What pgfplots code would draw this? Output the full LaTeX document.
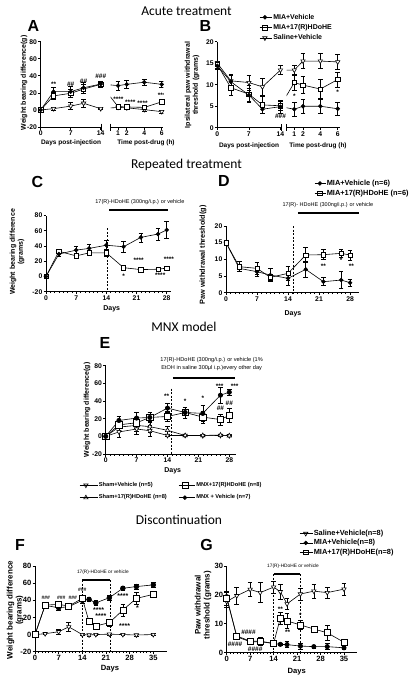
\documentclass[border=0pt]{standalone}
\usepackage{fontspec}
\setmainfont{Liberation Sans}
\newfontfamily\titlefont{Carlito}
\usepackage{pgfplots}
\pgfplotsset{compat=1.18}

\tikzset{
  fc/.style={black, line width=0.6pt, mark=*, mark size=1.9pt, mark options={solid, fill=black}},
  sq/.style={black, line width=0.6pt, mark=square*, mark size=2.2pt, mark options={solid, fill=white}},
  td/.style={black, line width=0.6pt, mark=triangle*, mark size=2.5pt, mark options={solid, fill=white, rotate=180}},
  tu/.style={black, line width=0.6pt, mark=triangle*, mark size=2.5pt, mark options={solid, fill=white}},
  st/.style={font=\fontsize{6.5}{7}\selectfont\bfseries, inner sep=0pt},
  ann/.style={font=\fontsize{5.5}{6.3}\selectfont, inner sep=0pt, align=center},
  albl/.style={font=\fontsize{6.5}{7.5}\selectfont\bfseries, inner sep=0pt, align=center},
  ylbl/.style={font=\fontsize{7}{8}\selectfont\bfseries, inner sep=0pt, align=center, rotate=90},
  plet/.style={font=\fontsize{16}{16}\selectfont\bfseries, inner sep=0pt},
  ttl/.style={font=\titlefont\fontsize{13.5}{14}\selectfont, inner sep=0pt},
  dsh/.style={dashed, line width=0.5pt, dash pattern=on 2pt off 1.5pt},
  bar/.style={line width=2.2pt},
}
\pgfplotsset{
  eb/.style={error bars/y dir=both, error bars/y explicit,
    error bars/error bar style={line width=0.6pt, black, solid},
    error bars/error mark options={rotate=90, mark size=2.3pt, line width=0.6pt, black}},
  gp/.style={scale only axis, anchor=south west, clip=false,
    axis x line*=bottom, axis y line*=left,
    axis line style={line width=0.8pt, -},
    tick align=outside,
    major tick style={line width=0.7pt, black}, minor tick style={line width=0.5pt, black},
    major tick length=2.5pt, minor tick length=1.5pt,
    /pgf/number format/assume math mode=true,
    tick label style={font=\fontsize{6.8}{7}\selectfont\bfseries},
    xticklabel style={inner sep=1pt}, yticklabel style={inner sep=1pt},
  },
  legax/.style={hide axis, scale only axis, width=10pt, height=10pt, anchor=north west,
    xmin=0, xmax=1, ymin=0, ymax=1,
    legend style={at={(0,1)}, anchor=north west, draw=none, fill=none, inner sep=0pt,
      nodes={inner sep=0.6pt}},
    legend cell align=left},
  limg/.style 2 args={legend image code/.code={\draw[mark repeat=2, mark phase=2, ##1] plot coordinates {(0pt,0pt) (#1/2,0pt) (#1,0pt)}; \path (0pt,0pt) -- (#2,0pt);}},
}

\begin{document}
\begin{tikzpicture}
\useasboundingbox (0,0) rectangle (413pt,-675pt);

% ---------- titles and panel letters ----------
\node[ttl] at (186.5pt,-11.5pt) {Acute treatment};
\node[ttl] at (186.5pt,-165pt) {Repeated treatment};
\node[ttl] at (184pt,-326.7pt) {MNX model};
\node[ttl] at (179pt,-520pt) {Discontinuation};
\node[plet] at (33.5pt,-25.5pt) {A};
\node[plet] at (205.5pt,-25.5pt) {B};
\node[plet] at (37.5pt,-181.7pt) {C};
\node[plet] at (224pt,-180.5pt) {D};
\node[plet] at (105pt,-342.5pt) {E};
\node[plet] at (20pt,-545pt) {F};
\node[plet] at (206.5pt,-545pt) {G};

% ================= Panel A =================
\begin{axis}[gp, at={(40.7pt,-127pt)}, width=61.1pt, height=85.3pt,
  xmin=0, xmax=14.25, ymin=-20, ymax=80, xtick={0,7,14}, ytick={-20,0,20,40,60,80}]
\addplot[td, eb] coordinates {(0,0)+-(0,1) (3,1.5)+-(0,1.5) (7,4.5)+-(0,4) (10,7.8)+-(0,5) (14,1.5)+-(0,1)};
\addplot[sq, eb] coordinates {(0,0)+-(0,1) (3,16.5)+-(0,4) (7,19.5)+-(0,5) (10,24.5)+-(0,5) (14,30)+-(0,3)};
\addplot[fc, eb] coordinates {(0,0)+-(0,1) (3,21.4)+-(0,5) (7,21.4)+-(0,6) (10,26)+-(0,6) (14,30.4)+-(0,3)};
\node[st] at (axis cs:3,30) {**};
\node[st] at (axis cs:7,30) {\#\#};
\node[st] at (axis cs:10,34) {\#\#};
\node[st] at (axis cs:14,40) {\#\#\#};
\end{axis}
\begin{axis}[gp, at={(110.6pt,-127pt)}, width=52.9pt, height=85.3pt, clip=true,
  axis y line=none, xmin=0.15, xmax=6.2, ymin=-20, ymax=80, xtick={1,2,4,6}]
\addplot[td, eb] coordinates {(-0.98,1.5)+-(0,0) (1,3)+-(0,2) (2,2.5)+-(0,2) (4,0.4)+-(0,1.5) (6,-2)+-(0,1.5)};
\addplot[sq, eb] coordinates {(-0.98,30)+-(0,0) (1,3.9)+-(0,2) (2,3.5)+-(0,2) (4,3)+-(0,2) (6,9.5)+-(0,3)};
\addplot[fc, eb] coordinates {(-0.98,30.4)+-(0,0) (1,28.5)+-(0,5) (2,30)+-(0,5) (4,32.5)+-(0,4) (6,30)+-(0,4)};
\node[st] at (axis cs:1.05,13) {****};
\node[st] at (axis cs:2.4,9) {****};
\node[st] at (axis cs:3.8,8) {****};
\node[st] at (axis cs:6,17) {***};
\end{axis}
\draw[line width=0.8pt] (101.8pt,-123.5pt) -- (101.8pt,-130.5pt);
\draw[line width=0.8pt] (110.6pt,-123.5pt) -- (110.6pt,-130.5pt);
\node[albl] at (71pt,-142.5pt) {Days post-injection};
\node[albl] at (146pt,-142.5pt) {Time post-drug (h)};
\node[ylbl] at (24pt,-83pt) {Weight bearing difference(g)};

% ================= Panel B =================
\begin{axis}[gp, at={(217.3pt,-127.7pt)}, width=64.3pt, height=86pt,
  xmin=0, xmax=14.25, ymin=0, ymax=20, xtick={0,7,14}, ytick={0,5,10,15,20}]
\addplot[td, eb] coordinates {(0,15)+-(0,0.5) (3,10.9)+-(0,1.5) (7,10.5)+-(0,1.7) (10,9.5)+-(0,2) (14,13.4)+-(0,1)};
\addplot[sq, eb] coordinates {(0,14.7)+-(0,0.8) (3,9.3)+-(0,1.8) (7,7.8)+-(0,2) (10,5.3)+-(0,2) (14,5.1)+-(0,1)};
\addplot[fc, eb] coordinates {(0,14.4)+-(0,0.8) (3,10.7)+-(0,1.5) (7,7.6)+-(0,1.5) (10,4.3)+-(0,1) (14,4.9)+-(0,1.5)};
\node[st] at (axis cs:14,2.7) {\#\#\#};
\end{axis}
\begin{axis}[gp, at={(286.5pt,-127.7pt)}, width=53.4pt, height=86pt, clip=true,
  axis y line=none, xmin=0.1, xmax=6.25, ymin=0, ymax=20, xtick={1,2,4,6}]
\addplot[td, eb] coordinates {(-0.59,13.4)+-(0,0) (1,13.4)+-(0,1) (2,15.5)+-(0,1.7) (4,15.5)+-(0,1.7) (6,15.3)+-(0,1.8)};
\addplot[sq, eb] coordinates {(-0.59,5.1)+-(0,0) (1,10.5)+-(0,1.8) (2,9.9)+-(0,2) (4,9)+-(0,2.2) (6,11.2)+-(0,1.7)};
\addplot[fc, eb] coordinates {(-0.59,4.9)+-(0,0) (1,4.3)+-(0,1.7) (2,5)+-(0,1.7) (4,5)+-(0,1.7) (6,4.4)+-(0,1.5)};
\node[st] at (axis cs:1,7.2) {*};
\node[st] at (axis cs:6,8.2) {*};
\end{axis}
\draw[line width=0.8pt] (281.6pt,-124.2pt) -- (281.6pt,-131.2pt);
\draw[line width=0.8pt] (286.5pt,-124.2pt) -- (286.5pt,-131.2pt);
\node[albl] at (249pt,-145.5pt) {Days post-injection};
\node[albl] at (318pt,-145.5pt) {Time post-drug (h)};
\node[ylbl] at (192pt,-85pt) {Ipsilateral paw withdrawal\\threshold (grams)};
% legend B
\begin{axis}[legax, at={(259.4pt,-13.2pt)}, limg={10pt}{12.5pt},
  legend style={row sep=2.6pt, font=\fontsize{7}{8}\selectfont\bfseries}]
\addlegendimage{fc}\addlegendentry{MIA+Vehicle}
\addlegendimage{sq}\addlegendentry{MIA+17(R)HDoHE}
\addlegendimage{td}\addlegendentry{Saline+Vehicle}
\end{axis}

% ================= Panel C =================
\begin{axis}[gp, at={(46pt,-291.7pt)}, width=125pt, height=76.2pt,
  xmin=0, xmax=29, ymin=-20, ymax=80, xtick={0,7,14,21,28}, minor x tick num=6,
  ytick={-20,0,20,40,60,80}]
\draw[dsh] (axis cs:14.2,63) -- (axis cs:14.2,-20);
\draw[bar] (axis cs:14.7,87.2) -- (axis cs:28.4,87.2);
\node[ann] at (axis cs:21.8,97.3) {17(R)-HDoHE (300ng/i.p.) or vehicle};
\addplot[sq, eb] coordinates {(0,0)+-(0,1) (3,33)+-(0,2) (7,27)+-(0,3) (10,31)+-(0,3) (14,31)+-(0,4) (18,11.5)+-(0,3) (22,9)+-(0,1) (26,9.5)+-(0,1) (28,11)+-(0,2)};
\addplot[fc, eb] coordinates {(0,0)+-(0,1) (3,29.4)+-(0,3) (7,34.6)+-(0,5) (10,36.8)+-(0,6) (14,41)+-(0,7) (18,39)+-(0,7) (22,51.3)+-(0,6) (26,55.7)+-(0,8) (28,61)+-(0,11)};
\node[st] at (axis cs:18,0) {*};
\node[st] at (axis cs:21.5,21) {****};
\node[st] at (axis cs:26.5,1) {****};
\node[st] at (axis cs:28.5,23) {****};
\end{axis}
\node[albl, font=\fontsize{7}{8}\selectfont\bfseries] at (111.7pt,-309pt) {Days};
\node[ylbl] at (17pt,-252pt) {Weight bearing difference\\(grams)};

% ================= Panel D =================
\begin{axis}[gp, at={(226pt,-292.7pt)}, width=132.9pt, height=66.7pt,
  xmin=0, xmax=30, ymin=0, ymax=20, xtick={0,7,14,21,28}, minor x tick num=6,
  ytick={0,5,10,15,20}]
\draw[dsh] (axis cs:15.1,20) -- (axis cs:15.1,0);
\draw[bar] (axis cs:16.2,23.8) -- (axis cs:30,23.8);
\node[ann] at (axis cs:23,26.4) {17(R)- HDoHE (300ng/i.p.) or vehicle};
\addplot[fc, eb] coordinates {(0,15)+-(0,0.3) (3,7.3)+-(0,1) (7,6.3)+-(0,1.5) (10,5.3)+-(0,2) (14,4.3)+-(0,2) (18,7)+-(0,2.5) (22,3.3)+-(0,1.2) (26,3.8)+-(0,2.5) (28,3)+-(0,1)};
\addplot[sq, eb] coordinates {(0,15)+-(0,0.3) (3,7.8)+-(0,1.5) (7,7.3)+-(0,1.8) (10,4.6)+-(0,1) (14,5.8)+-(0,2) (18,11.3)+-(0,2.3) (22,11.4)+-(0,1.5) (26,11.8)+-(0,1.3) (28,11.3)+-(0,1.5)};
\node[st] at (axis cs:22,7.8) {**};
\node[st] at (axis cs:26,9.8) {*};
\node[st] at (axis cs:28.3,7.8) {**};
\end{axis}
\node[albl, font=\fontsize{7}{8}\selectfont\bfseries] at (293pt,-314pt) {Days};
\node[ylbl, font=\fontsize{7.3}{8}\selectfont\bfseries] at (203pt,-255pt) {Paw withdrawal threshold(g)};
% legend D
\begin{axis}[legax, at={(314.4pt,-179.2pt)}, limg={10pt}{11pt},
  legend style={row sep=1.8pt, font=\fontsize{7.4}{8}\selectfont\bfseries}]
\addlegendimage{fc}\addlegendentry{MIA+Vehicle (n=6)}
\addlegendimage{sq}\addlegendentry{MIA+17(R)HDoHE (n=6)}
\end{axis}

% ================= Panel E =================
\begin{axis}[gp, at={(105.7pt,-454pt)}, width=130.2pt, height=88.3pt,
  xmin=0, xmax=29.5, ymin=-20, ymax=80, xtick={0,7,14,21,28}, minor x tick num=6,
  ytick={-20,0,20,40,60,80}]
\draw[dsh] (axis cs:14.8,54) -- (axis cs:14.8,-20);
\draw[bar] (axis cs:15.2,66.4) -- (axis cs:29.3,66.4);
\node[ann, font=\fontsize{5.6}{8.3}\selectfont] at (axis cs:24,81.9) {17(R)-HDoHE (300ng/i.p.) or vehicle (1\%\\EtOH in saline 300μl i.p.)every other day};
\addplot[td, eb] coordinates {(0,0)+-(0,1) (3,5)+-(0,6) (7,8.3)+-(0,6) (10,6.4)+-(0,6) (14,1)+-(0,1) (18,1)+-(0,1) (22,0.7)+-(0,1) (26,1)+-(0,1) (28,0.7)+-(0,1)};
\addplot[tu, eb] coordinates {(0,0)+-(0,1) (3,10.5)+-(0,5) (7,12.4)+-(0,7) (10,11)+-(0,6) (14,6.8)+-(0,5) (18,1)+-(0,1) (22,1)+-(0,1) (26,1.5)+-(0,1) (28,0.7)+-(0,1)};
\addplot[sq, mark size=3.2pt, eb] coordinates {(0,0)+-(0,2) (3,13)+-(0,6) (7,15.4)+-(0,6) (10,21.4)+-(0,6) (14,22.5)+-(0,6) (18,27)+-(0,6) (22,21.8)+-(0,7) (26,19)+-(0,6) (28,23.7)+-(0,8)};
\addplot[fc, mark size=2.2pt, eb] coordinates {(0,0)+-(0,2) (3,18)+-(0,5) (7,20.7)+-(0,6) (10,21.4)+-(0,6) (14,32)+-(0,5) (18,27)+-(0,6) (22,26)+-(0,9) (26,46.6)+-(0,9) (28,50)+-(0,3)};
\node[st] at (axis cs:13.8,45) {**};
\node[st] at (axis cs:18,40) {*};
\node[st] at (axis cs:22,43) {*};
\node[st] at (axis cs:25.8,57) {***};
\node[st] at (axis cs:29.2,57) {***};
\node[st] at (axis cs:26,32) {\#\#};
\node[st] at (axis cs:28,37.6) {\#\#};
\end{axis}
\node[albl, font=\fontsize{7}{8}\selectfont\bfseries] at (172.7pt,-470.7pt) {Days};
\node[ylbl] at (87pt,-410pt) {Weight bearing difference(g)};
% legend E (two columns)
\begin{axis}[legax, at={(79.4pt,-481.6pt)}, limg={12pt}{18pt},
  legend style={row sep=5.6pt, font=\fontsize{5.7}{7}\selectfont\bfseries}]
\addlegendimage{td}\addlegendentry{Sham+Vehicle (n=5)}
\addlegendimage{tu}\addlegendentry{Sham+17(R)HDoHE (n=8)}
\end{axis}
\begin{axis}[legax, at={(178.4pt,-481.6pt)}, limg={12pt}{16.5pt},
  legend style={row sep=5.6pt, font=\fontsize{5.7}{7}\selectfont\bfseries}]
\addlegendimage{sq, mark size=3pt}\addlegendentry{MNX+17(R)HDoHE (n=8)}
\addlegendimage{fc}\addlegendentry{MNX + Vehicle (n=7)}
\end{axis}

% ================= Panel F =================
\begin{axis}[gp, at={(35pt,-651.7pt)}, width=131.8pt, height=85.7pt,
  xmin=0, xmax=39, ymin=-20, ymax=80, xtick={0,7,14,21,28,35}, minor x tick num=6,
  ytick={-20,0,20,40,60,80}, tick label style={font=\fontsize{7.6}{8}\selectfont\bfseries}]
\draw[dsh] (axis cs:14,63.6) -- (axis cs:14,-20);
\draw[dsh] (axis cs:22.2,63.6) -- (axis cs:22.2,-20);
\draw[bar] (axis cs:14,63.6) -- (axis cs:22.2,63.6);
\node[ann, font=\fontsize{4.8}{5.5}\selectfont] at (axis cs:20.1,72.6) {17(R)-HDoHE or vehicle};
\addplot[td, eb] coordinates {(0,0)+-(0,1) (3,1)+-(0,1) (7,3.3)+-(0,3) (10,9)+-(0,5) (14,0)+-(0,1) (16,-0.5)+-(0,1) (18,0)+-(0,1) (22,0.5)+-(0,1) (26,0)+-(0,1) (30,-0.5)+-(0,1) (35,0)+-(0,1)};
\addplot[fc, mark size=2.4pt, eb] coordinates {(0,0)+-(0,1) (3,34)+-(0,2) (7,31.3)+-(0,3) (10,32.5)+-(0,3) (14,40)+-(0,3) (16,41)+-(0,2) (18,37)+-(0,3) (22,43)+-(0,3) (26,54)+-(0,2) (30,56)+-(0,3) (35,58)+-(0,3)};
\addplot[sq, mark size=3pt, eb] coordinates {(0,0)+-(0,1) (3,34.4)+-(0,2) (7,35.2)+-(0,2) (10,33.3)+-(0,3) (14,42.2)+-(0,3) (16,15)+-(0,3) (18,10)+-(0,2) (22,13.9)+-(0,4) (26,28.6)+-(0,7) (30,42.2)+-(0,7) (35,46.9)+-(0,2)};
\node[st, font=\fontsize{5}{6}\selectfont\bfseries] at (axis cs:3.2,43) {\#\#\#};
\node[st, font=\fontsize{5}{6}\selectfont\bfseries] at (axis cs:7.8,43) {\#\#\#};
\node[st, font=\fontsize{5}{6}\selectfont\bfseries] at (axis cs:11.2,43) {\#\#\#};
\node[st, font=\fontsize{5}{6}\selectfont\bfseries] at (axis cs:14,52) {\#\#\#};
\node[st, font=\fontsize{7}{7}\selectfont\bfseries] at (axis cs:26,45) {****};
\node[st, font=\fontsize{7}{7}\selectfont\bfseries] at (axis cs:18.8,29) {****};
\node[st, font=\fontsize{7}{7}\selectfont\bfseries] at (axis cs:19.5,22) {****};
\node[st, font=\fontsize{7}{7}\selectfont\bfseries] at (axis cs:26.5,10) {****};
\node[st, font=\fontsize{7}{7}\selectfont\bfseries] at (axis cs:30.3,31) {*};
\end{axis}
\node[albl, font=\fontsize{7.6}{8}\selectfont\bfseries] at (110pt,-668.3pt) {Days};
\node[ylbl, font=\fontsize{8}{9}\selectfont\bfseries] at (15pt,-610pt) {Weight bearing difference\\(grams)};

% ================= Panel G =================
\begin{axis}[gp, at={(226.7pt,-652.7pt)}, width=130.7pt, height=86.7pt,
  xmin=0, xmax=39, ymin=0, ymax=30, xtick={0,7,14,21,28,35}, minor x tick num=6,
  ytick={0,10,20,30}, tick label style={font=\fontsize{7.6}{8}\selectfont\bfseries}]
\draw[dsh] (axis cs:14,27.1) -- (axis cs:14,0);
\draw[dsh] (axis cs:22,27.1) -- (axis cs:22,0);
\draw[line width=1.8pt] (axis cs:14,27.1) -- (axis cs:22,27.1);
\node[ann, font=\fontsize{4.8}{5.5}\selectfont] at (axis cs:19.8,29.8) {17(R)-HDoHE or vehicle};
\addplot[td, eb] coordinates {(0,17.7)+-(0,2) (3,19.7)+-(0,3) (7,21.9)+-(0,2.5) (10,20.8)+-(0,3.5) (14,22.7)+-(0,2) (16,21.1)+-(0,2.5) (18,16.9)+-(0,2) (22,20.3)+-(0,2) (26,21.3)+-(0,2.5) (30,20.8)+-(0,2) (35,22)+-(0,2)};
\addplot[fc, mark size=2.2pt, eb] coordinates {(0,19.4)+-(0,1.5) (3,5.5)+-(0,1) (7,3.8)+-(0,1) (10,3.8)+-(0,1) (14,3.2)+-(0,1) (16,2.9)+-(0,0.5) (18,2.8)+-(0,1) (22,2.3)+-(0,1) (26,2.1)+-(0,0.5) (30,2.1)+-(0,1) (35,1.7)+-(0,0.5)};
\addplot[sq, mark size=3pt, eb] coordinates {(0,18.8)+-(0,2.5) (3,5.8)+-(0,1) (7,4)+-(0,1) (10,4)+-(0,1.5) (14,3.2)+-(0,1) (16,12)+-(0,2) (18,11)+-(0,2.5) (22,9.6)+-(0,1.5) (26,8.2)+-(0,1) (30,6.9)+-(0,2.5) (35,3.6)+-(0,0.5)};
\node[st] at (axis cs:2.5,2.9) {\#\#\#\#};
\node[st] at (axis cs:6.5,7) {\#\#\#\#};
\node[st] at (axis cs:8.5,1.3) {\#\#\#\#};
\node[st] at (axis cs:16,15.1) {**};
\node[st] at (axis cs:18.2,7) {**};
\node[st] at (axis cs:22,13.1) {*};
\end{axis}
\node[albl, font=\fontsize{7.6}{8}\selectfont\bfseries] at (296.7pt,-671.7pt) {Days};
\node[ylbl, font=\fontsize{8}{9}\selectfont\bfseries] at (203pt,-605pt) {Paw withdrawal\\threshold (grams)};
% legend G
\begin{axis}[legax, at={(299.4pt,-529.3pt)}, limg={11.7pt}{13pt},
  legend style={row sep=1.3pt, font=\fontsize{7.4}{8}\selectfont\bfseries}]
\addlegendimage{td}\addlegendentry{Saline+Vehicle(n=8)}
\addlegendimage{fc}\addlegendentry{MIA+Vehicle(n=8)}
\addlegendimage{sq}\addlegendentry{MIA+17(R)HDoHE(n=8)}
\end{axis}

\end{tikzpicture}
\end{document}
